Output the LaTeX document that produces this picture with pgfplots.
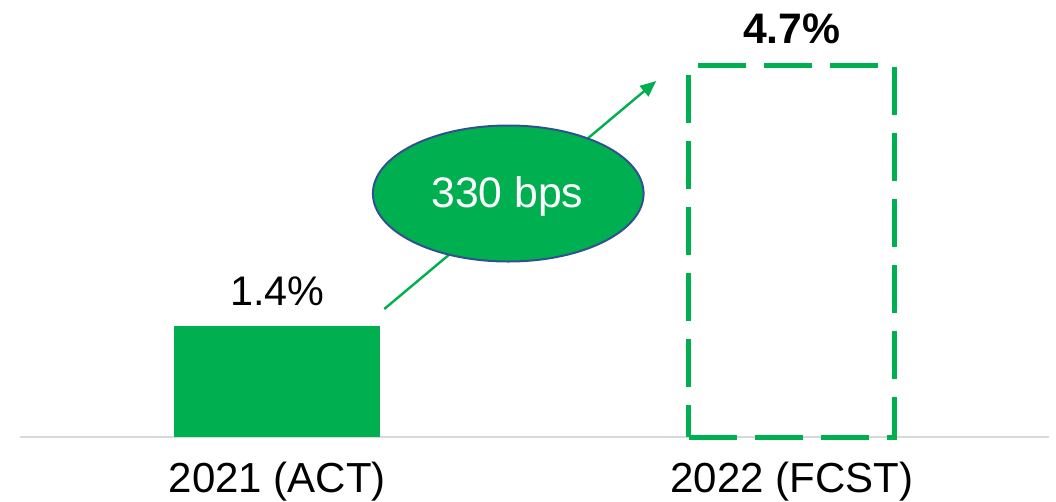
\documentclass[border=0pt]{standalone}
\usepackage{pgfplots}
\pgfplotsset{compat=1.18}
\usepackage{fontspec}
\setmainfont{Liberation Sans}
\usetikzlibrary{arrows.meta,shapes.geometric}
\definecolor{bargreen}{HTML}{00B050}
\definecolor{edgeblue}{HTML}{2F528F}
\definecolor{basegray}{HTML}{D9D9D9}
\begin{document}
\begin{tikzpicture}
\begin{axis}[
  at={(15pt,48pt)}, anchor=south west,
  scale only axis,
  width=771.75pt, height=325.9pt,
  xmin=-0.5, xmax=1.5, ymin=0, ymax=5.5,
  axis y line=none,
  axis x line=bottom,
  x axis line style={-, draw=basegray, line width=1.5pt},
  xtick={0,1},
  xticklabels={2021 (ACT),2022 (FCST)},
  major tick length=0pt,
  ytick=\empty,
  xticklabel style={anchor=base, yshift=-41.5pt, font=\fontsize{31.5}{36}\selectfont},
  clip=false,
]
\addplot[ybar, bar width=0.4, bar shift=0pt, fill=bargreen, draw=none] coordinates {(0,1.4)};
\addplot[ybar, bar width=0.4, bar shift=0pt, fill=none, draw=bargreen, line width=3.75pt,
  dash pattern=on 36pt off 13.5pt] coordinates {(1,4.7)};
\draw[bargreen, line width=1.8pt, -{Triangle[length=12pt,width=10pt]}]
  (axis cs:0.208,1.62) -- (axis cs:0.7366,4.506);
\node[ellipse, fill=bargreen, draw=edgeblue, line width=1.5pt, inner sep=0pt,
  minimum width=203pt, minimum height=102pt] at (axis cs:0.449,3.082) {};
\node[anchor=base, text=white, inner sep=0pt, font=\fontsize{32}{36}\selectfont]
  at (axis cs:0.447,2.899) {330 bps};
\node[anchor=base, inner sep=0pt, yshift=15.75pt, font=\fontsize{31}{36}\selectfont]
  at (axis cs:0,1.4) {1.4\%};
\node[anchor=base, inner sep=0pt, yshift=16.9pt, font=\fontsize{32}{36}\selectfont\bfseries]
  at (axis cs:1,4.7) {4.7\%};
\end{axis}
\pgfresetboundingbox
\useasboundingbox (0,0) rectangle (792pt,375.75pt);
\end{tikzpicture}
\end{document}
